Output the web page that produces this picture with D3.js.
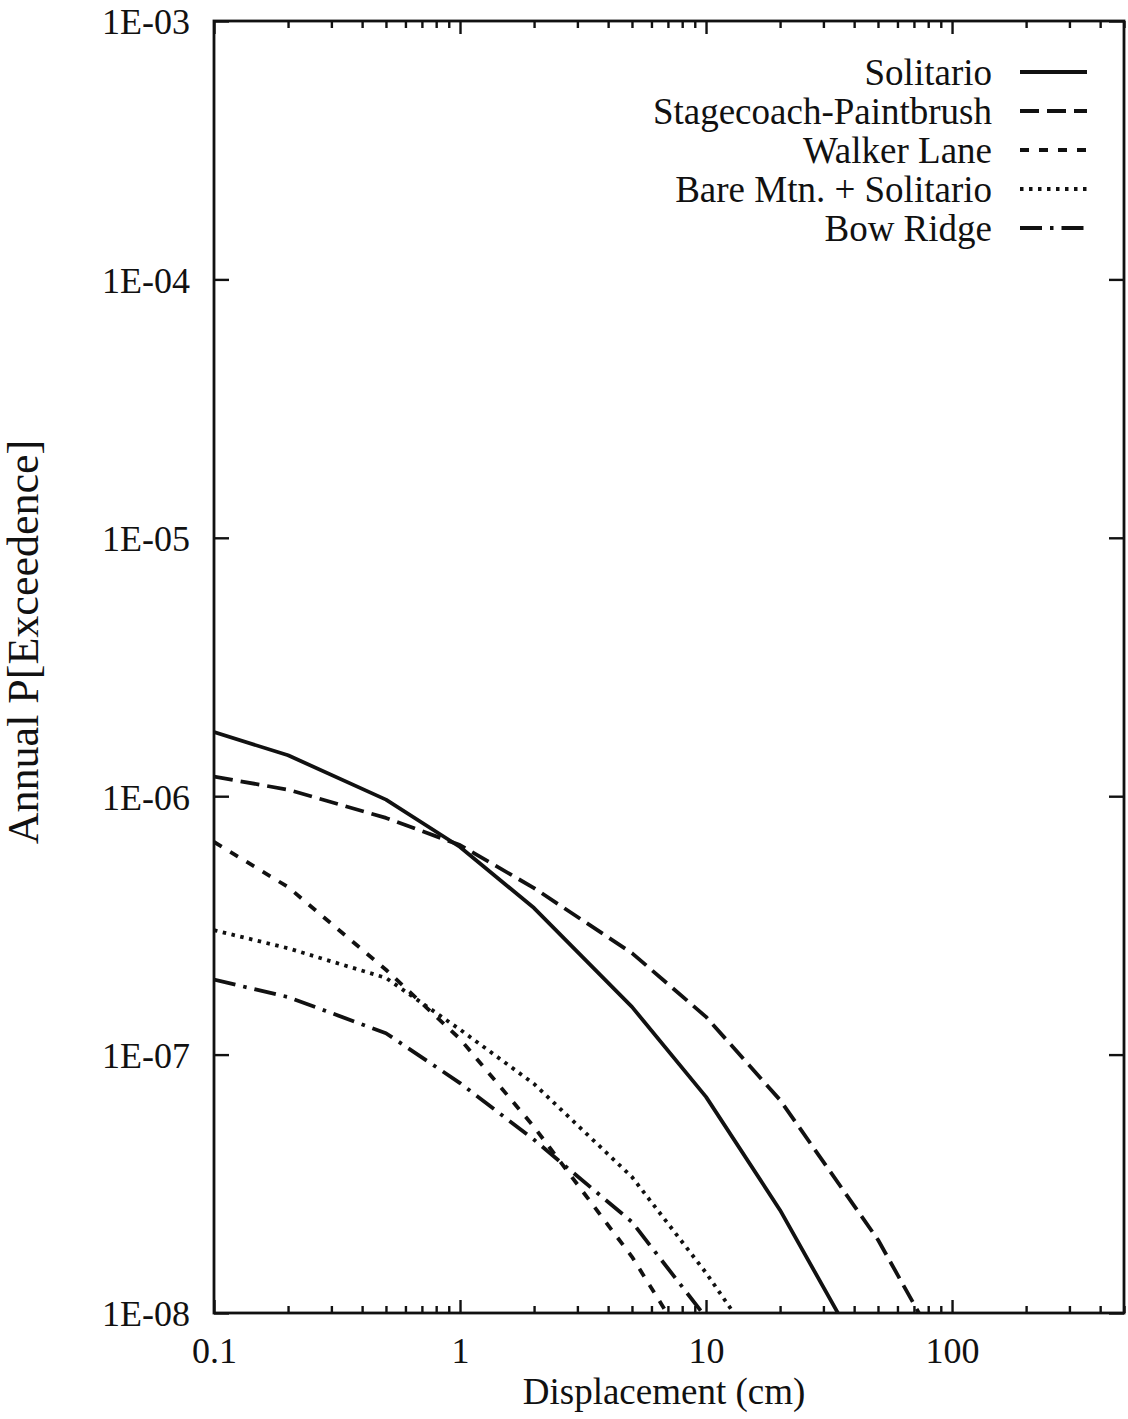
<!DOCTYPE html>
<html>
<head>
<meta charset="utf-8">
<script src="https://cdn.jsdelivr.net/npm/d3@7"></script>
<style>
  html, body { margin: 0; padding: 0; background: #fff; }
  svg text { font-family: "Liberation Serif", "Times New Roman", serif; fill: #111; }
</style>
</head>
<body>
<svg id="chart" width="1128" height="1419"></svg>
<script>
// Displacement values (cm) at which the hazard curves were evaluated
const displacement = [0.1, 0.2, 0.5, 1, 2, 5, 10, 20, 50, 100];

// Annual probability of exceedence for each fault source
const solitario  = [1.77e-6, 1.44e-6, 9.7e-7, 6.36e-7, 3.69e-7, 1.53e-7, 6.86e-8, 2.5e-8, 5.3e-9];
const stagecoach = [1.19e-6, 1.06e-6, 8.24e-7, 6.47e-7, 4.41e-7, 2.47e-7, 1.40e-7, 6.67e-8, 1.92e-8, 5.9e-9];
const walkerLane = [6.65e-7, 4.45e-7, 2.13e-7, 1.15e-7, 5.25e-8, 1.65e-8, 5.7e-9];
const bareMtn    = [3.03e-7, 2.58e-7, 1.98e-7, 1.25e-7, 7.7e-8, 3.36e-8, 1.43e-8, 5.5e-9];
const bowRidge   = [1.95e-7, 1.67e-7, 1.21e-7, 7.76e-8, 4.68e-8, 2.25e-8, 9.6e-9];

const seriesNames = ["Solitario", "Stagecoach-Paintbrush", "Walker Lane", "Bare Mtn. + Solitario", "Bow Ridge"];
const seriesValues = [solitario, stagecoach, walkerLane, bareMtn, bowRidge];
const seriesDash = [null, "19,8", "9,10", "3.5,5.5", "22,8,3.5,8"];

const xTickLabels = ["0.1", "1", "10", "100"];
const yTickLabels = ["1E-03", "1E-04", "1E-05", "1E-06", "1E-07", "1E-08"];

const xDomain = [0.1, 500];
const yDomain = [1e-8, 1e-3];

const svg = d3.select("#chart");
const plotLeft = 214, plotRight = 1124, plotTop = 21, plotBottom = 1313;

const x = d3.scaleLog().domain(xDomain).range([plotLeft, plotRight]);
const y = d3.scaleLog().domain(yDomain).range([plotBottom, plotTop]);

// Minor/major tick positions on the log x axis
const xMajor = xTickLabels.map(Number);
const xMinor = [];
for (let dec = 0.1; dec < 500; dec *= 10) {
  for (let m = 2; m <= 9; m++) {
    const v = +(dec * m).toPrecision(3);
    if (v <= 500) xMinor.push(v);
  }
}
const yMajor = yTickLabels.map(Number);

const frame = svg.append("g");

function styleAxis(g) {
  g.select(".domain").remove();
  g.selectAll(".tick line").attr("stroke", "#111").attr("stroke-width", 2.4);
}

// bottom axis: majors with labels, then minors
frame.append("g").attr("transform", `translate(0,${plotBottom})`)
  .call(d3.axisBottom(x).tickValues(xMajor).tickSize(-13).tickPadding(24)
    .tickFormat((d, i) => xTickLabels[i]))
  .call(styleAxis)
  .call(g => g.selectAll("text").attr("font-size", 36).attr("dy", "0.71em"));
frame.append("g").attr("transform", `translate(0,${plotBottom})`)
  .call(d3.axisBottom(x).tickValues(xMinor).tickSize(-7).tickFormat(""))
  .call(styleAxis);

// top axis mirrors the bottom one, ticks pointing inward
frame.append("g").attr("transform", `translate(0,${plotTop})`)
  .call(d3.axisTop(x).tickValues(xMajor).tickSize(-13).tickFormat(""))
  .call(styleAxis);
frame.append("g").attr("transform", `translate(0,${plotTop})`)
  .call(d3.axisTop(x).tickValues(xMinor).tickSize(-7).tickFormat(""))
  .call(styleAxis);

// left and right axes: decade ticks only
frame.append("g").attr("transform", `translate(${plotLeft},0)`)
  .call(d3.axisLeft(y).tickValues(yMajor).tickSize(-15).tickPadding(24)
    .tickFormat((d, i) => yTickLabels[i]))
  .call(styleAxis)
  .call(g => g.selectAll("text").attr("font-size", 36).attr("dy", "0.36em"));
frame.append("g").attr("transform", `translate(${plotRight},0)`)
  .call(d3.axisRight(y).tickValues(yMajor).tickSize(-15).tickFormat(""))
  .call(styleAxis);

// plot border
frame.append("rect")
  .attr("x", plotLeft).attr("y", plotTop)
  .attr("width", plotRight - plotLeft).attr("height", plotBottom - plotTop)
  .attr("fill", "none").attr("stroke", "#111").attr("stroke-width", 2.8);

// curves, clipped to the plot window
svg.append("defs").append("clipPath").attr("id", "plot-clip")
  .append("rect").attr("x", plotLeft).attr("y", plotTop)
  .attr("width", plotRight - plotLeft).attr("height", plotBottom - plotTop);

const line = d3.line()
  .x((d, i) => x(displacement[i]))
  .y(d => y(d));

const curves = svg.append("g").attr("clip-path", "url(#plot-clip)");
seriesValues.forEach((vals, k) => {
  curves.append("path")
    .attr("d", line(vals))
    .attr("fill", "none")
    .attr("stroke", "#111")
    .attr("stroke-width", 3.8)
    .attr("stroke-linejoin", "round")
    .attr("stroke-dasharray", seriesDash[k]);
});

// legend
const legend = svg.append("g");
seriesNames.forEach((name, k) => {
  const ly = 72 + k * 39;
  legend.append("text")
    .attr("x", 992).attr("y", ly).attr("dy", "0.35em")
    .attr("text-anchor", "end")
    .attr("font-size", 37)
    .text(name);
  legend.append("line")
    .attr("x1", 1020).attr("x2", 1087)
    .attr("y1", ly).attr("y2", ly)
    .attr("stroke", "#111").attr("stroke-width", 3.8)
    .attr("stroke-dasharray", seriesDash[k]);
});

// axis titles
svg.append("text")
  .attr("x", (plotLeft + plotRight) / 2 - 5).attr("y", 1404)
  .attr("text-anchor", "middle").attr("font-size", 37)
  .text("Displacement (cm)");
svg.append("text")
  .attr("transform", `translate(38,${(plotTop + plotBottom) / 2 - 25}) rotate(-90)`)
  .attr("text-anchor", "middle").attr("font-size", 44)
  .text("Annual P[Exceedence]");
</script>
</body>
</html>
